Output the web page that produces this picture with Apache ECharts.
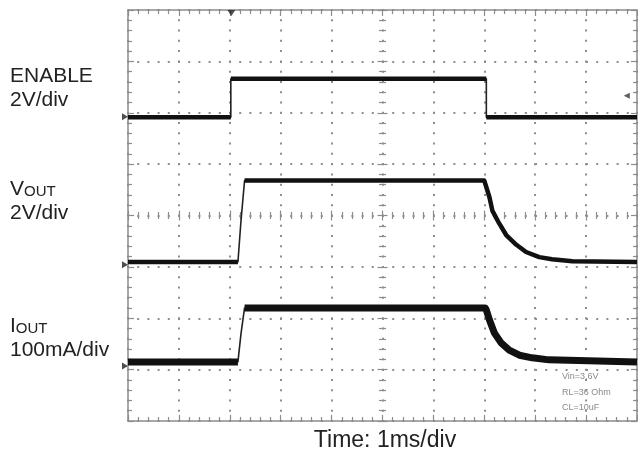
<!DOCTYPE html>
<html>
<head>
<meta charset="utf-8">
<script src="https://cdn.jsdelivr.net/npm/echarts@6/dist/echarts.min.js"></script>
<style>
html,body{margin:0;padding:0;background:#fff;}
#c{width:638px;height:456px;}
</style>
</head>
<body>
<div id="c"></div>
<script>
// Time axis: ms (1 ms/div), 0 = screen centre. Trace levels: divisions from screen centre.
const xRange = [-5, 5];
const yRange = [-4, 4];

// ENABLE (2 V/div)
const enableT = [-5, -2.98, -2.98, 2.04, 2.04, 5];
const enableV = [1.91, 1.91, 2.66, 2.66, 1.91, 1.91];

// VOUT (2 V/div)
const voutT = [-5, -2.84, -2.78, -2.71, 2.0, 2.10, 2.16, 2.29, 2.43, 2.63, 2.82, 3.08, 3.33, 3.73, 5];
const voutV = [-0.905, -0.905, -0.10, 0.68, 0.68, 0.36, 0.09, -0.15, -0.38, -0.57, -0.71, -0.81, -0.85, -0.89, -0.905];

// IOUT (100 mA/div)
const ioutT = [-5, -2.84, -2.78, -2.71, 2.02, 2.04, 2.10, 2.20, 2.33, 2.49, 2.69, 2.94, 3.27, 5];
const ioutV = [-2.85, -2.85, -2.30, -1.80, -1.80, -1.84, -2.03, -2.29, -2.48, -2.62, -2.72, -2.77, -2.81, -2.85];

// Scope markers
const groundMarkT = [-5, -5, -5];
const groundMarkV = [1.92, -0.96, -2.93];
const trigPosT = [-2.97];
const trigPosV = [3.94];
const trigLevelT = [4.8];
const trigLevelV = [2.33];

// Texts
const channelLabels = [
  { name: ['ENABLE', ''], scale: '2V/div' },
  { name: ['V', 'OUT'], scale: '2V/div' },
  { name: ['I', 'OUT'], scale: '100mA/div' }
];
const timeLabel = 'Time: 1ms/div';
const condLabels = ['Vin=3.6V', 'RL=36 Ohm', 'CL=10uF'];

const FONT = '"Liberation Sans", Arial, Helvetica, sans-serif';
const GRID_COLOR = '#8e8e8e';
const BORDER_COLOR = '#8c8c8c';

function zip(t, v) { return t.map((x, i) => [x, v[i]]); }

// Plateau / slow parts of a trace drawn thick (noise band), fast edges thin
function thickParts(t, v, maxSlope) {
  const out = [];
  let lastIdx = -2;
  for (let i = 0; i < t.length - 1; i++) {
    const dt = t[i + 1] - t[i];
    const dv = v[i + 1] - v[i];
    const slow = dt > 0 && Math.abs(dv / dt) < maxSlope;
    if (!slow) continue;
    if (lastIdx !== i) {
      if (out.length) out.push([t[i], null]);
      out.push([t[i], v[i]]);
    }
    out.push([t[i + 1], v[i + 1]]);
    lastIdx = i + 1;
  }
  return out;
}

function traceSeries(t, v, thickW) {
  return [
    {
      type: 'line', xAxisIndex: 0, yAxisIndex: 0, data: zip(t, v),
      symbol: 'none', lineStyle: { color: '#222', width: 1.6 }, z: 5, silent: true
    },
    {
      type: 'line', xAxisIndex: 0, yAxisIndex: 0, data: thickParts(t, v, 6),
      symbol: 'none', connectNulls: false,
      lineStyle: { color: '#111', width: thickW, cap: 'butt', join: 'round' }, z: 6, silent: true
    }
  ];
}

function borderAxis(dim, pos, grid, withSplit) {
  const isX = dim === 'x';
  const rng = isX ? xRange : yRange;
  return {
    type: 'value', gridIndex: grid, position: pos,
    min: rng[0], max: rng[1], interval: 1,
    axisLine: { show: true, onZero: false, lineStyle: { color: BORDER_COLOR, width: 1.5 } },
    axisTick: { show: true, inside: true, length: 6, lineStyle: { color: BORDER_COLOR, width: 1.2 } },
    minorTick: { show: true, splitNumber: 5, length: 4, lineStyle: { color: BORDER_COLOR, width: 1.2 } },
    axisLabel: { show: false },
    splitLine: {
      show: withSplit,
      lineStyle: { color: GRID_COLOR, width: 2, type: isX ? [2, 8.275] : [2, 8.2], dashOffset: 1 }
    },
    minorSplitLine: { show: false }
  };
}

function centerAxis(dim, pos, grid) {
  const isX = dim === 'x';
  const rng = isX ? xRange : yRange;
  return {
    type: 'value', gridIndex: grid, position: pos,
    min: rng[0], max: rng[1], interval: 1,
    axisLine: { show: false, onZero: true },
    axisTick: { show: true, inside: true, length: 5, lineStyle: { color: BORDER_COLOR, width: 1.2 } },
    minorTick: { show: true, splitNumber: 5, length: 3.5, lineStyle: { color: BORDER_COLOR, width: 1.2 } },
    axisLabel: { show: false },
    splitLine: { show: false }
  };
}

const gridBox = { left: 128, right: 1, top: 10, bottom: 35, show: false };

const graphics = [];
const labelY = [[76, 100], [189, 213], [326, 350]];
channelLabels.forEach((c, i) => {
  graphics.push({
    type: 'text', x: 10, y: labelY[i][0],
    style: {
      text: '{a|' + c.name[0] + '}' + (c.name[1] ? '{b|' + c.name[1] + '}' : ''),
      rich: {
        a: { fontSize: 21, fontFamily: FONT, fill: '#222', verticalAlign: 'bottom' },
        b: { fontSize: 15, fontFamily: FONT, fill: '#222', verticalAlign: 'bottom' }
      },
      verticalAlign: 'middle'
    }
  });
  graphics.push({
    type: 'text', x: 10, y: labelY[i][1],
    style: { text: c.scale, fontSize: 21, fontFamily: FONT, fill: '#222', verticalAlign: 'middle' }
  });
});
graphics.push({
  type: 'text', x: 385, y: 441,
  style: { text: timeLabel, fontSize: 23, fontFamily: FONT, fill: '#222', align: 'center', verticalAlign: 'middle' }
});
const condY = [377, 393, 408];
condLabels.forEach((s, i) => {
  graphics.push({
    type: 'text', x: 562, y: condY[i],
    style: { text: s, fontSize: 9, fontFamily: FONT, fill: '#8a8a8a', verticalAlign: 'middle' }
  });
});

const option = {
  animation: false,
  backgroundColor: '#fff',
  grid: [gridBox, Object.assign({}, gridBox)],
  xAxis: [
    borderAxis('x', 'bottom', 0, true),
    borderAxis('x', 'top', 0, false),
    centerAxis('x', 'bottom', 1),
    centerAxis('x', 'top', 1)
  ],
  yAxis: [
    borderAxis('y', 'left', 0, true),
    borderAxis('y', 'right', 0, false),
    centerAxis('y', 'left', 1),
    centerAxis('y', 'right', 1)
  ],
  series: [
    ...traceSeries(enableT, enableV, 4.5),
    ...traceSeries(voutT, voutV, 4.5),
    ...traceSeries(ioutT, ioutV, 7),
    {
      type: 'scatter', xAxisIndex: 0, yAxisIndex: 0, clip: false, z: 10, silent: true,
      data: zip(groundMarkT, groundMarkV), symbol: 'triangle', symbolSize: [7, 6], symbolRotate: -90,
      symbolOffset: [-3, 0], itemStyle: { color: '#222' }
    },
    {
      type: 'scatter', xAxisIndex: 0, yAxisIndex: 0, clip: false, z: 10, silent: true,
      data: zip(trigPosT, trigPosV), symbol: 'triangle', symbolSize: [8, 6], symbolRotate: 180,
      itemStyle: { color: '#222' }
    },
    {
      type: 'scatter', xAxisIndex: 0, yAxisIndex: 0, clip: false, z: 10, silent: true,
      data: zip(trigLevelT, trigLevelV), symbol: 'triangle', symbolSize: [6, 6], symbolRotate: 90,
      itemStyle: { color: '#333' }
    }
  ],
  graphic: graphics
};

const chart = echarts.init(document.getElementById('c'), null, { renderer: 'canvas' });
chart.setOption(option);
</script>
</body>
</html>
